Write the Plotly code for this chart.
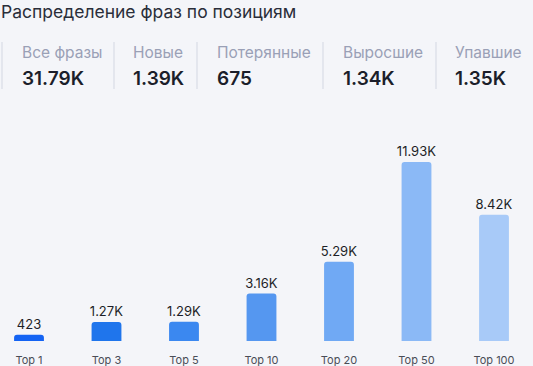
import plotly.graph_objects as go

categories = ["Top 1", "Top 3", "Top 5", "Top 10", "Top 20", "Top 50", "Top 100"]
values = [423, 1270, 1290, 3160, 5290, 11930, 8420]
value_labels = ["423", "1.27K", "1.29K", "3.16K", "5.29K", "11.93K", "8.42K"]
bar_colors = ["#1463f3", "#1f75ec", "#3b88f0", "#5597f0", "#70a9f4", "#8bb9f6", "#a8caf8"]

title_text = "Распределение фраз по позициям"
stat_names = ["Все фразы", "Новые", "Потерянные", "Выросшие", "Упавшие"]
stat_values = ["31.79K", "1.39K", "675", "1.34K", "1.35K"]

W, H = 533, 366
T, B = 120, 25
plot_h = H - T - B
base_px = H - B

def py(p):
    return (base_px - p) / plot_h

fig = go.Figure()
fig.add_trace(go.Bar(
    x=list(range(len(categories))),
    y=values,
    text=value_labels,
    texttemplate="%{text}",
    textposition="outside",
    constraintext="none",
    textfont=dict(family="Inter", size=13, color="#1d1f27"),
    marker=dict(color=bar_colors, cornerradius=3, line=dict(width=0)),
    width=0.385,
    cliponaxis=False,
    hoverinfo="skip",
))

annotations = [dict(
    text=title_text, x=-1 / W, y=py(12), xref="paper", yref="paper",
    xanchor="left", yanchor="middle", showarrow=False,
    font=dict(family="Inter", size=17.5, color="#2a2e3a"),
)]
label_x = [20, 131, 215, 341, 453]
sep_x = [2, 114, 197, 323, 436]
shapes = []
for i, (n, v) in enumerate(zip(stat_names, stat_values)):
    annotations.append(dict(
        text=n, x=label_x[i] / W, y=py(52), xref="paper", yref="paper",
        xanchor="left", yanchor="middle", showarrow=False,
        font=dict(family="Inter", size=15.5, color="#9aa0b6"),
    ))
    annotations.append(dict(
        text=v, x=label_x[i] / W, y=py(78), xref="paper", yref="paper",
        xanchor="left", yanchor="middle", showarrow=False,
        font=dict(family="Inter", size=19, color="#1b1e2a", weight=600),
    ))
    shapes.append(dict(
        type="line", xref="paper", yref="paper",
        x0=sep_x[i] / W, x1=sep_x[i] / W, y0=py(42), y1=py(89),
        line=dict(color="#d3d7e2", width=1),
    ))

px_per_unit = 77.5
x0 = -29 / px_per_unit
x1 = (W - 29) / px_per_unit

fig.update_layout(
    width=W, height=H,
    margin=dict(l=0, r=0, t=T, b=B),
    paper_bgcolor="#f4f5f9",
    plot_bgcolor="#f4f5f9",
    showlegend=False,
    annotations=annotations,
    shapes=shapes,
    xaxis=dict(
        range=[x0, x1], tickmode="array",
        tickvals=list(range(len(categories))), ticktext=categories,
        showgrid=False, zeroline=False, showline=False, ticks="",
        tickfont=dict(family="Inter", size=11, color="#4a4d57"),
        ticklabelstandoff=11,
    ),
    yaxis=dict(
        range=[0, plot_h / 15 * 1000], visible=False,
        showgrid=False, zeroline=False,
    ),
    font=dict(family="Inter"),
)

fig.write_html(
    "out.html",
    config={"displayModeBar": False, "staticPlot": True},
    post_script="document.body.style.margin='0';document.body.style.overflow='hidden';document.body.style.background='#f4f5f9';",
)
